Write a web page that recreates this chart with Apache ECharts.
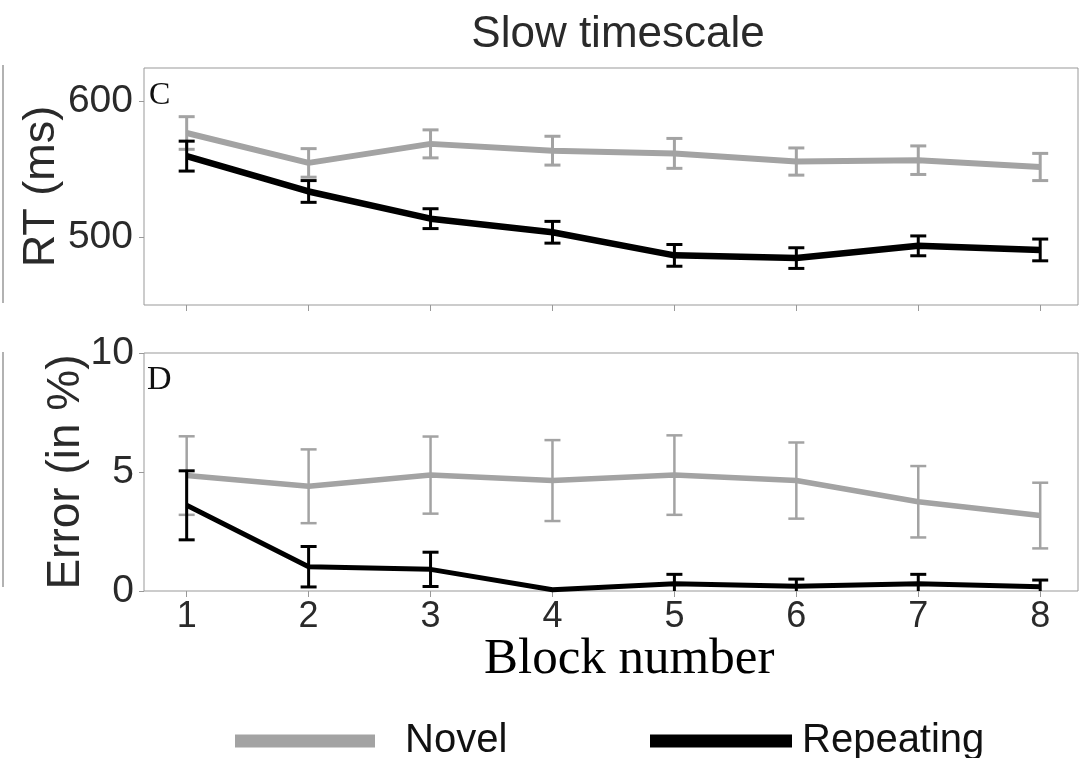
<!DOCTYPE html>
<html>
<head>
<meta charset="utf-8">
<script src="https://cdn.jsdelivr.net/npm/echarts@6/dist/echarts.min.js"></script>
<style>html,body{margin:0;padding:0;background:#fff;}#c{width:1084px;height:758px;}</style>
</head>
<body>
<div id="c"></div>
<script>
const blocks = [1, 2, 3, 4, 5, 6, 7, 8];
const rtNovel = [577, 555, 569, 564, 562, 556, 557, 552];
const rtNovelErr = [12, 10.5, 10.3, 10.6, 11, 10, 10.5, 10];
const rtRepeat = [560, 534, 514, 504, 487, 485, 494, 491];
const rtRepeatErr = [11, 8, 7.3, 8, 8, 7.6, 7.3, 8];
const errNovel = [4.85, 4.4, 4.87, 4.64, 4.87, 4.64, 3.75, 3.17];
const errNovelErr = [1.65, 1.55, 1.62, 1.7, 1.67, 1.6, 1.5, 1.38];
const errRepeat = [3.6, 1.02, 0.91, 0.05, 0.3, 0.2, 0.3, 0.18];
const errRepeatErr = [1.45, 0.85, 0.72, 0, 0.4, 0.3, 0.4, 0.28];
const rtTicks = [500, 600];
const errTicks = [0, 5, 10];

const GRAY = '#a3a3a3';
const BLACK = '#000000';
const FONT = "'Liberation Sans', Arial, sans-serif";
const SERIF = "'Liberation Serif', 'Times New Roman', serif";

function pairs(m) { return blocks.map((b, i) => [b, m[i]]); }
function errData(m, e) { return blocks.map((b, i) => [b, m[i] - e[i], m[i] + e[i], e[i]]); }

function errSeries(name, m, e, idx, color, w, cap) {
  return {
    name: name, type: 'custom', xAxisIndex: idx, yAxisIndex: idx, clip: true, z: 5,
    data: errData(m, e),
    renderItem: function (params, api) {
      if (api.value(3) === 0) return null;
      const x = api.value(0);
      const lo = api.coord([x, api.value(1)]);
      const hi = api.coord([x, api.value(2)]);
      const st = { stroke: color, lineWidth: w };
      return {
        type: 'group',
        children: [
          { type: 'line', shape: { x1: lo[0], y1: lo[1], x2: hi[0], y2: hi[1] }, style: st },
          { type: 'line', shape: { x1: lo[0] - cap, y1: lo[1], x2: lo[0] + cap, y2: lo[1] }, style: st },
          { type: 'line', shape: { x1: hi[0] - cap, y1: hi[1], x2: hi[0] + cap, y2: hi[1] }, style: st }
        ]
      };
    }
  };
}

function lineSeries(name, m, idx, color, w, z) {
  return {
    name: name, type: 'line', xAxisIndex: idx, yAxisIndex: idx, data: pairs(m),
    symbol: 'none', showSymbol: false, z: z,
    lineStyle: { color: color, width: w, join: 'round' },
    itemStyle: { color: color }
  };
}

const chart = echarts.init(document.getElementById('c'));
const xCommon = {
  type: 'value', min: 0.65, max: 8.31,
  axisLine: { show: false }, splitLine: { show: false },
  axisTick: { show: true, customValues: blocks, length: 6, lineStyle: { color: '#999' } }
};
chart.setOption({
  animation: false,
  backgroundColor: '#fff',
  title: {
    text: 'Slow timescale', left: 613, textAlign: 'center', top: 8,
    textStyle: { fontFamily: FONT, fontSize: 44, fontWeight: 'normal', color: '#2a2a2a' }
  },
  grid: [
    { left: 144, top: 68, width: 934, height: 237, show: true, borderColor: '#999', borderWidth: 1, containLabel: false },
    { left: 144, top: 353, width: 934, height: 238, show: true, borderColor: '#999', borderWidth: 1, containLabel: false }
  ],
  xAxis: [
    Object.assign({}, xCommon, { gridIndex: 0, axisLabel: { show: false } }),
    Object.assign({}, xCommon, {
      gridIndex: 1,
      axisLabel: { show: true, customValues: blocks, margin: 8, fontFamily: FONT, fontSize: 36, color: '#2a2a2a' }
    })
  ],
  yAxis: [
    {
      type: 'value', gridIndex: 0, min: 450.5, max: 624.8,
      axisLine: { show: false }, splitLine: { show: false },
      axisTick: { show: true, customValues: rtTicks, length: 5, lineStyle: { color: '#999' } },
      axisLabel: { show: true, customValues: rtTicks, margin: 11, fontFamily: FONT, fontSize: 39, color: '#2a2a2a' },
      name: 'RT (ms)', nameLocation: 'middle', nameRotate: 90, nameGap: 80, nameMoveOverlap: false,
      nameTextStyle: { fontFamily: FONT, fontSize: 45, color: '#2a2a2a' }
    },
    {
      type: 'value', gridIndex: 1, min: 0, max: 10,
      axisLine: { show: false }, splitLine: { show: false },
      axisTick: { show: true, customValues: errTicks, length: 5, lineStyle: { color: '#999' } },
      axisLabel: { show: true, customValues: errTicks, margin: 10, fontFamily: FONT, fontSize: 39, color: '#2a2a2a' },
      name: 'Error (in %)', nameLocation: 'middle', nameRotate: 90, nameGap: 55, nameMoveOverlap: false,
      nameTextStyle: { fontFamily: FONT, fontSize: 46, color: '#2a2a2a' }
    }
  ],
  legend: [
    {
      data: ['Novel'], left: 230, top: 716, icon: 'rect', itemWidth: 140, itemHeight: 13,
      textStyle: { fontFamily: FONT, fontSize: 40, color: '#111', padding: [0, 0, 0, 25] }
    },
    {
      data: ['Repeating'], left: 645, top: 716, icon: 'rect', itemWidth: 142, itemHeight: 13,
      textStyle: { fontFamily: FONT, fontSize: 40, color: '#111', padding: [0, 0, 0, 5] }
    }
  ],
  graphic: [
    { type: 'text', left: 149, top: 80, style: { text: 'C', font: '32px ' + SERIF, fill: '#111' } },
    { type: 'text', left: 147, top: 363, style: { text: 'D', font: '34px ' + SERIF, fill: '#111' } },
    { type: 'text', left: 484, top: 634, style: { text: 'Block number', font: '51px ' + SERIF, fill: '#000' } },
    { type: 'line', shape: { x1: 3, y1: 65, x2: 3, y2: 303 }, style: { stroke: '#999', lineWidth: 1.5 } },
    { type: 'line', shape: { x1: 3, y1: 352, x2: 3, y2: 587 }, style: { stroke: '#999', lineWidth: 1.5 } }
  ],
  series: [
    lineSeries('Novel', rtNovel, 0, GRAY, 6, 2),
    errSeries('NovelErrRT', rtNovel, rtNovelErr, 0, GRAY, 3, 8),
    lineSeries('Repeating', rtRepeat, 0, BLACK, 6.5, 3),
    errSeries('RepeatErrRT', rtRepeat, rtRepeatErr, 0, BLACK, 3, 8),
    lineSeries('Novel', errNovel, 1, GRAY, 5.5, 2),
    errSeries('NovelErrE', errNovel, errNovelErr, 1, GRAY, 2.5, 8),
    lineSeries('Repeating', errRepeat, 1, BLACK, 5, 3),
    errSeries('RepeatErrE', errRepeat, errRepeatErr, 1, BLACK, 3, 8)
  ]
});
</script>
</body>
</html>
